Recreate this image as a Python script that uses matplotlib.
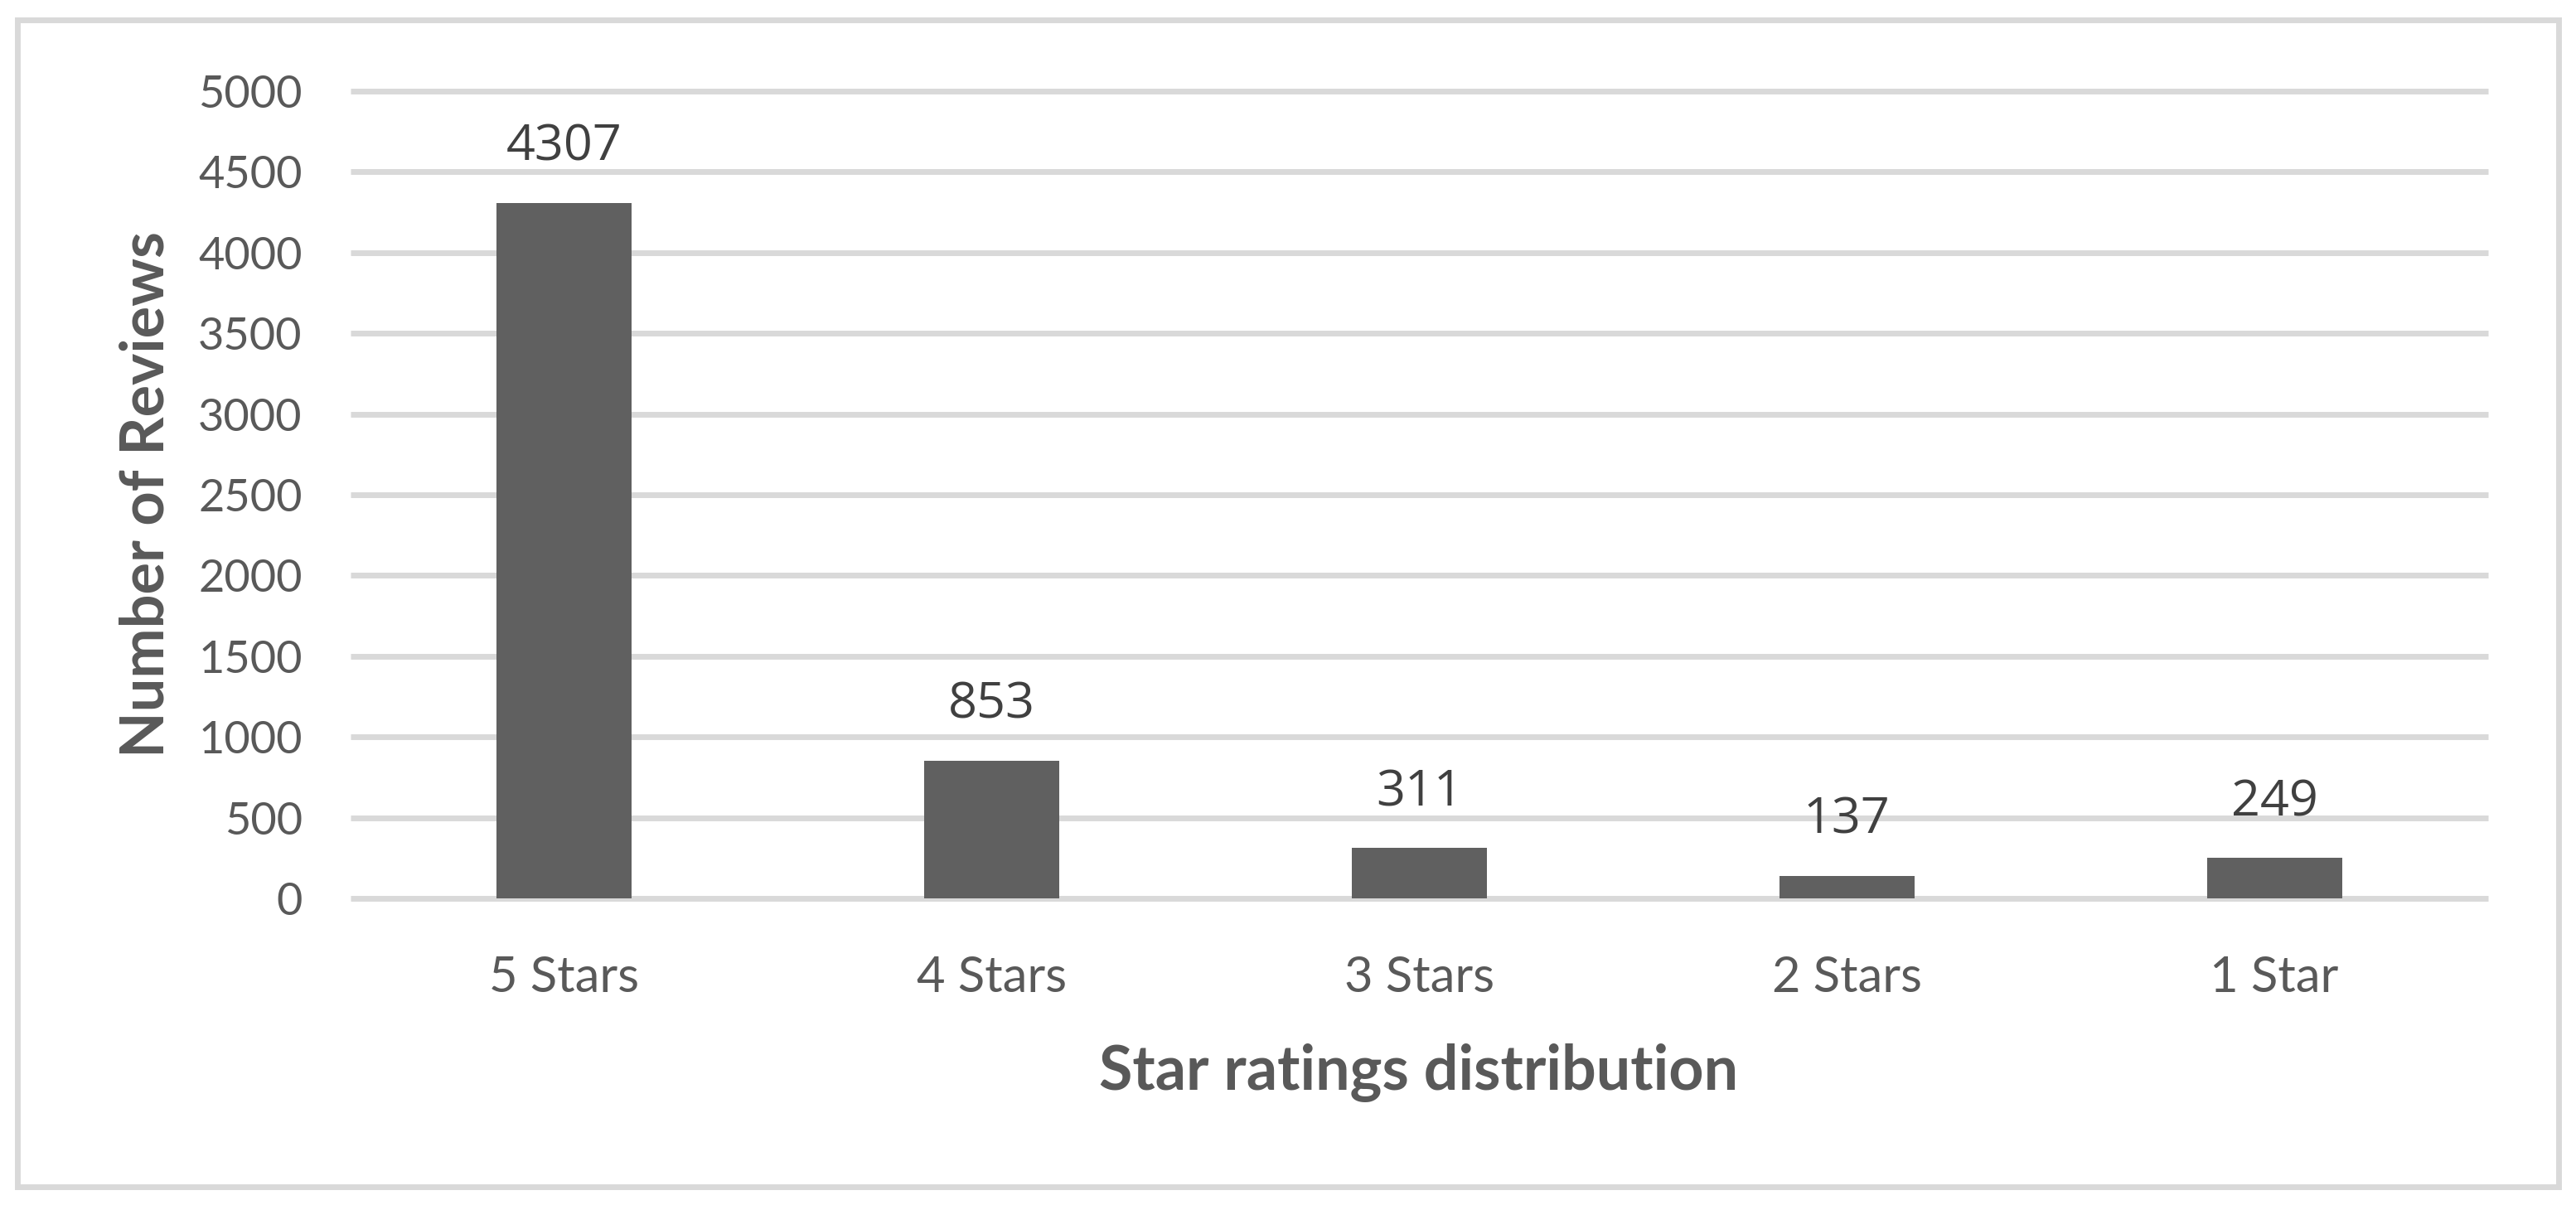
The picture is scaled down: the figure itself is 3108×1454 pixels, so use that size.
import matplotlib
matplotlib.use("Agg")
import matplotlib.pyplot as plt
from matplotlib.patches import Rectangle

categories = ["5 Stars", "4 Stars", "3 Stars", "2 Stars", "1 Star"]
reviews = [4307, 853, 311, 137, 249]
y_ticks = [0, 500, 1000, 1500, 2000, 2500, 3000, 3500, 4000, 4500, 5000]

W, H = 3108, 1454
fig = plt.figure(figsize=(W / 100, H / 100), dpi=100)
fig.patch.set_facecolor("white")

ax = fig.add_axes([423 / W, 1 - 1084 / H, (3002 - 423) / W, (1084 - 110) / H])
x = list(range(len(categories)))
ax.bar(x, reviews, width=0.316, color="#606060", zorder=3)
ax.set_xlim(-0.5, len(categories) - 0.5)
ax.set_ylim(0, 5000)
ax.set_yticks(y_ticks)
ax.set_xticks(x)
ax.set_xticklabels(categories)

for s in ax.spines.values():
    s.set_visible(False)
ax.set_axisbelow(True)
ax.yaxis.grid(True, color="#D9D9D9", linewidth=5.0, solid_capstyle="butt")
ax.xaxis.grid(False)
for gl in ax.get_ygridlines():
    gl.set_clip_on(False)

ax.tick_params(axis="both", length=0)
ax.tick_params(axis="y", pad=42, labelsize=39, labelcolor="#595959")
ax.tick_params(axis="x", pad=50, labelsize=43, labelcolor="#595959")
for lab in ax.get_xticklabels() + ax.get_yticklabels():
    lab.set_family("Lato")

for xi, v in zip(x, reviews):
    ax.annotate(str(v), (xi, v), xytext=(0, 37), textcoords="offset points",
                ha="center", va="baseline", fontsize=44, color="#404040",
                family="Open Sans")

fig.text(1712 / W, 1 - 1294 / H, "Star ratings distribution", ha="center", va="center",
         fontsize=53, fontweight="bold", color="#595959", family="Lato")
fig.text(177 / W, 1 - 597 / H, "Number of Reviews", ha="center", va="center",
         rotation=90, fontsize=52, fontweight="bold", color="#595959", family="Lato")

border = Rectangle((21 / W, 1 - 1432 / H), (3087 - 21) / W, (1432 - 24) / H,
                   transform=fig.transFigure, fill=False, edgecolor="#D9D9D9",
                   linewidth=5.0, zorder=10)
fig.patches.append(border)

fig.savefig("out.png", dpi=100, facecolor="white")
